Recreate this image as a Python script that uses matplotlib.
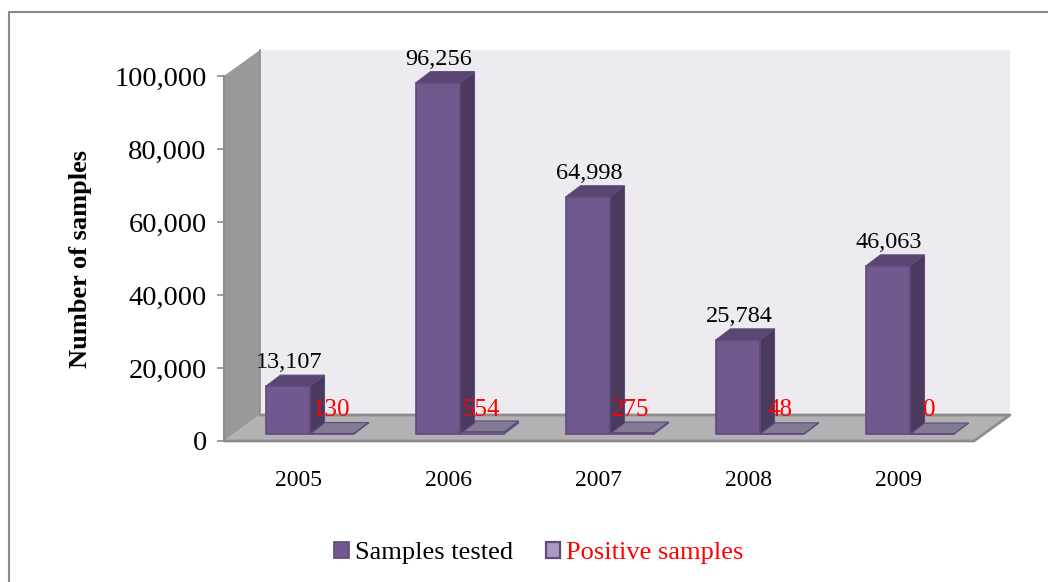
import numpy as np
import matplotlib
matplotlib.use("Agg")
import matplotlib.pyplot as plt
from matplotlib.lines import Line2D
from matplotlib.patches import Polygon, Patch, Rectangle

years = ['2005', '2006', '2007', '2008', '2009']
tested = [13107, 96256, 64998, 25784, 46063]
positive = [130, 554, 275, 48, 0]
yticks = [0, 20000, 40000, 60000, 80000, 100000]

W, H = 1048, 582
plt.rcParams['font.family'] = ['Liberation Serif', 'DejaVu Serif']

fig = plt.figure(figsize=(W / 100, H / 100), dpi=100)
# chart frame is cropped: only the left and top edges show
fig.add_artist(Line2D([9 / W, 9 / W, 1], [0, 1 - 12 / H, 1 - 12 / H], transform=fig.transFigure,
                      color='#8a8a8a', lw=1.5, solid_joinstyle='miter'))

# front plane of the fake 3D box, in pixels
left, right, y0, y100 = 224, 974, 441, 76
ax = fig.add_axes([left / W, 1 - y0 / H, (right - left) / W, (y0 - y100) / H])
ax.set_xlim(-0.5, 4.5)
ax.set_ylim(0, 100000)
ax.patch.set_alpha(0)

# pixel -> data units
px = 1 / 150
py = 100000 / 365
box_dx, box_dy = 36 * px, 26 * py
bar_dx, bar_dy = 14.5 * px, 11 * py
x0, x1 = -0.5, 4.5

# walls
wall_top = 100000
ax.add_patch(Polygon([(x0 + box_dx, box_dy), (x1 + box_dx, box_dy), (x1 + box_dx, wall_top + box_dy),
                      (x0 + box_dx, wall_top + box_dy)], closed=True, fc='#EDEBF0', ec='none',
                     clip_on=False, zorder=1))
ax.add_patch(Polygon([(x0, 0), (x0 + box_dx, box_dy), (x0 + box_dx, wall_top + box_dy), (x0, wall_top)],
                     closed=True, fc='#9A989B', ec='none', clip_on=False, zorder=1))
ax.add_patch(Polygon([(x0, 0), (x1, 0), (x1 + box_dx, box_dy), (x0 + box_dx, box_dy)], closed=True,
                     fc='#B3B1B4', ec='none', clip_on=False, zorder=2))
ax.plot([x0 + box_dx, x1 + box_dx, x1, x0], [box_dy, box_dy, 0, 0], color='#8E8C8F', lw=2,
        clip_on=False, zorder=2, solid_capstyle='butt')
ax.plot([x0 + box_dx, x0 + box_dx], [box_dy, wall_top + box_dy], color='#8E8C8F', lw=1.2,
        clip_on=False, zorder=2)


def draw_bar(xl, w, h, front, side, top, z):
    base = 7 * py
    edge = '#5E4A7C'
    ax.add_patch(Polygon([(xl + w, base), (xl + w + bar_dx, base + bar_dy),
                          (xl + w + bar_dx, base + h + bar_dy), (xl + w, base + h)],
                         closed=True, fc=side, ec=edge, lw=0.8, clip_on=False, zorder=z))
    ax.add_patch(Polygon([(xl, base + h), (xl + w, base + h), (xl + w + bar_dx, base + h + bar_dy),
                          (xl + bar_dx, base + h + bar_dy)],
                         closed=True, fc=top, ec=edge, lw=0.8, clip_on=False, zorder=z))
    ax.add_patch(Rectangle((xl, base), w, h, fc=front, ec=edge, lw=1.2, clip_on=False, zorder=z))


bw = 44 * px
shift = 11 * px
for i in range(len(years)):
    # second series first, the tall bar sits in front of it
    draw_bar(i + shift, bw, positive[i], '#A99BBD', '#5E4A7C', '#857A93', 3)
    draw_bar(i + shift - bw, bw, tested[i], '#71588F', '#4A3A5E', '#5A4672', 4)
    ax.text(i + shift - bw / 2 + 1 * px, 7 * py + tested[i] + bar_dy + 12.5 * py, f'{tested[i]:,}',
            ha='center', va='center', fontsize=17.5, color='black', clip_on=False, zorder=6)
    ax.text(i * 0.995 + shift + bw / 2, 31 * py, str(positive[i]), ha='center', va='center',
            fontsize=18, color='#FF0000', clip_on=False, zorder=6)

ax.set_xticks(range(len(years)))
ax.set_xticklabels(years, fontsize=17)
ax.set_yticks(yticks)
ax.set_yticklabels([f'{v:,}' for v in yticks], fontsize=20.5)
ax.tick_params(axis='x', length=0, pad=21)
ax.tick_params(axis='y', length=5, width=1.2, color='#8E8C8F', pad=7.5)
for s in ['top', 'right', 'bottom']:
    ax.spines[s].set_visible(False)
ax.spines['left'].set_color('#8E8C8F')
ax.spines['left'].set_linewidth(1.5)
ax.set_axisbelow(False)

fig.text(80 / W, 1 - 259 / H, 'Number of samples', rotation=90, ha='center', va='center',
         fontsize=19, fontweight='bold')

handles = [Patch(fc='#71588F', ec='#5E4A7C', lw=1.2), Patch(fc='#A99BBD', ec='#5E4A7C', lw=1.6)]
leg = fig.legend(handles, ['Samples tested', 'Positive samples'], loc='center',
                 bbox_to_anchor=(539 / W, 1 - 553 / H), ncol=2, frameon=False, fontsize=19,
                 handlelength=0.55, handleheight=0.55, handletextpad=0.22, columnspacing=1.25,
                 borderpad=0, borderaxespad=0)
leg.get_texts()[1].set_color('#FF0000')

fig.savefig('out.png', dpi=100)
